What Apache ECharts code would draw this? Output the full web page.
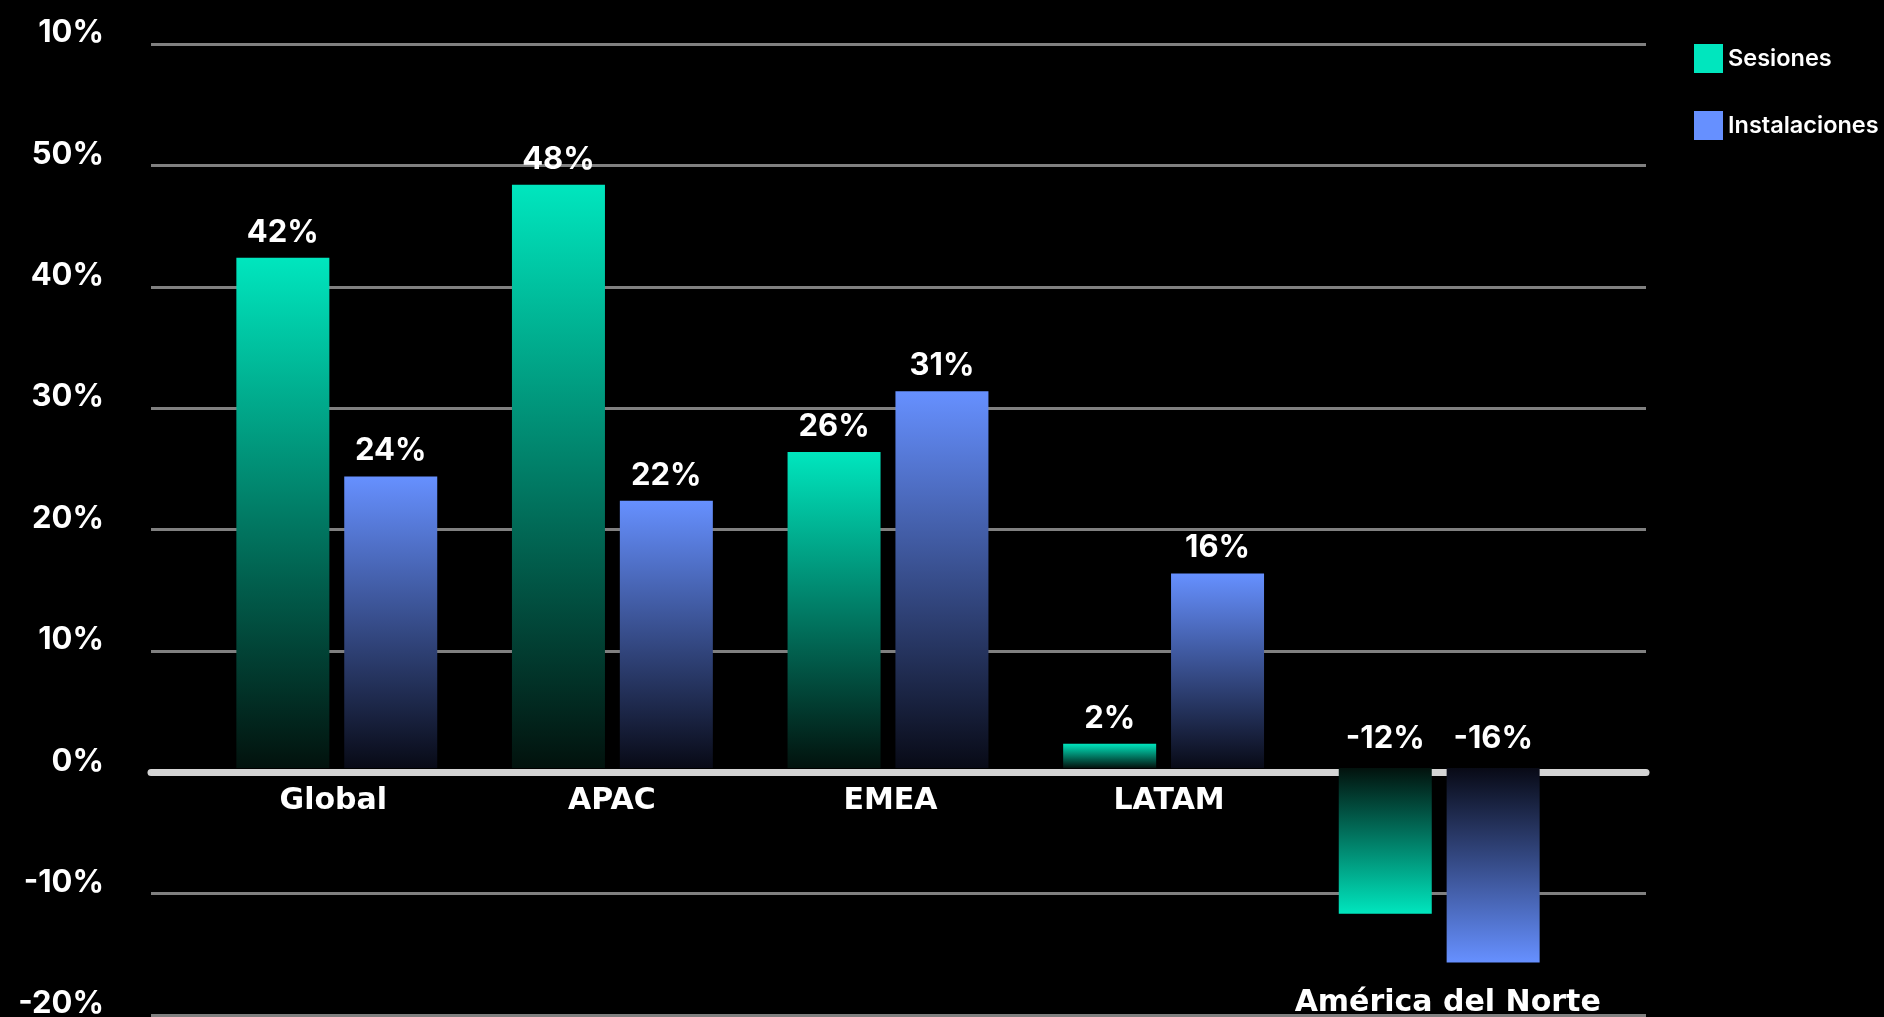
<!DOCTYPE html>
<html>
<head>
<meta charset="utf-8">
<title>Sesiones e Instalaciones por región</title>
<script src="https://cdn.jsdelivr.net/npm/echarts@6/dist/echarts.min.js"></script>
<style>
  html, body { margin: 0; padding: 0; background: #000; }
  #chart { width: 1884px; height: 1017px; }
</style>
</head>
<body>
<div id="chart"></div>
<script>
// Regions and year-over-year change (%)
const categories = ['Global', 'APAC', 'EMEA', 'LATAM', 'América del Norte'];
const sesiones = [42, 48, 26, 2, -12];
const instalaciones = [24, 22, 31, 16, -16];
const yTickLabels = ['-20%', '-10%', '0%', '10%', '20%', '30%', '40%', '50%', '10%'];

const seriesNames = ['Sesiones', 'Instalaciones'];
const brightColors = ['#00E6BE', '#6690FF'];
const darkColors = ['#02120D', '#080A16'];

const Y_MIN = -20, Y_MAX = 60, Y_STEP = 10;
const VALUE_FONT = 'Inter, "Noto Sans", sans-serif';
const CAT_FONT = '"DejaVu Sans", Verdana, sans-serif';

// bar grid geometry (px); the category axis is lifted onto the zero baseline
const BAR_TOP = 39, BAR_BOTTOM = 6, CANVAS_H = 1017;
const barPlotH = CANVAS_H - BAR_TOP - BAR_BOTTOM;
const zeroLift = barPlotH * (0 - Y_MIN) / (Y_MAX - Y_MIN);

// Each bar fades from its bright colour at the value end to near black at the baseline
function barItems(values, s) {
  return values.map(v => {
    const pos = v >= 0;
    return {
      value: v,
      itemStyle: {
        color: new echarts.graphic.LinearGradient(0, 0, 0, 1, pos
          ? [{ offset: 0, color: brightColors[s] }, { offset: 1, color: darkColors[s] }]
          : [{ offset: 0, color: darkColors[s] }, { offset: 1, color: brightColors[s] }])
      },
      label: { position: 'top', distance: pos ? 10 : 14 }
    };
  });
}

const chart = echarts.init(document.getElementById('chart'), null, { renderer: 'canvas' });

chart.setOption({
  backgroundColor: '#000000',
  animation: false,
  legend: {
    orient: 'vertical',
    left: 1694,
    top: 44,
    padding: 0,
    itemWidth: 29,
    itemHeight: 29,
    itemGap: 38,
    icon: 'rect',
    textStyle: { color: '#ffffff', fontFamily: VALUE_FONT, fontWeight: 600, fontSize: 23.5 },
    data: seriesNames.map((n, i) => ({ name: n, itemStyle: { color: brightColors[i] } }))
  },
  grid: [
    // gridlines, y labels and the zero line
    { left: 151, right: 238, top: 44, bottom: 2, containLabel: false, outerBoundsMode: 'none' },
    // bars
    { left: 199, right: 307, top: BAR_TOP, bottom: BAR_BOTTOM, containLabel: false, outerBoundsMode: 'none' },
    // category labels
    { left: 194, right: 297, top: BAR_TOP, bottom: BAR_BOTTOM, containLabel: false, outerBoundsMode: 'none' }
  ],
  xAxis: [
    {
      gridIndex: 0,
      type: 'category',
      data: categories,
      axisLine: { show: true, onZero: true, lineStyle: { color: '#d4d4d4', width: 7 } },
      axisTick: { show: false },
      axisLabel: { show: false },
      splitLine: { show: false }
    },
    {
      gridIndex: 1,
      type: 'category',
      data: categories,
      show: false
    },
    {
      gridIndex: 2,
      type: 'category',
      data: categories,
      position: 'bottom',
      offset: -zeroLift,
      axisLine: { show: false, onZero: false },
      axisTick: { show: false },
      axisLabel: {
        interval: 0,
        hideOverlap: false,
        color: '#ffffff',
        fontFamily: CAT_FONT,
        fontWeight: 'bold',
        fontSize: 30,
        margin: 18,
        formatter: (v, i) => sesiones[i] < 0 ? '{low|' + v + '}' : v,
        rich: {
          low: {
            color: '#ffffff',
            fontFamily: CAT_FONT,
            fontWeight: 'bold',
            fontSize: 30,
            padding: [202, 0, 0, 0]
          }
        }
      }
    }
  ],
  yAxis: [
    {
      gridIndex: 0,
      type: 'value',
      min: Y_MIN, max: Y_MAX, interval: Y_STEP,
      axisLine: { show: false },
      axisTick: { show: false },
      splitLine: { show: true, lineStyle: { color: '#808080', width: 3 } },
      axisLabel: {
        color: '#ffffff',
        fontFamily: VALUE_FONT,
        fontWeight: 700,
        fontSize: 31,
        margin: 47,
        verticalAlign: 'bottom',
        lineHeight: 22,
        formatter: v => yTickLabels[Math.round((v - Y_MIN) / Y_STEP)]
      }
    },
    {
      gridIndex: 1,
      type: 'value',
      min: Y_MIN, max: Y_MAX, interval: Y_STEP,
      show: false,
      splitLine: { show: false }
    },
    {
      gridIndex: 2,
      type: 'value',
      min: Y_MIN, max: Y_MAX, interval: Y_STEP,
      show: false,
      splitLine: { show: false }
    }
  ],
  series: [
    { type: 'line', xAxisIndex: 0, yAxisIndex: 0, data: [], silent: true },
    { type: 'line', xAxisIndex: 2, yAxisIndex: 2, data: [], silent: true },
    ...[sesiones, instalaciones].map((vals, s) => ({
      name: seriesNames[s],
      type: 'bar',
      xAxisIndex: 1,
      yAxisIndex: 1,
      barWidth: 93,
      barGap: '16%',
      itemStyle: { color: brightColors[s] },
      label: {
        show: true,
        color: '#ffffff',
        fontFamily: VALUE_FONT,
        fontWeight: 700,
        fontSize: 31,
        formatter: p => p.value + '%'
      },
      data: barItems(vals, s)
    }))
  ]
});
</script>
</body>
</html>
